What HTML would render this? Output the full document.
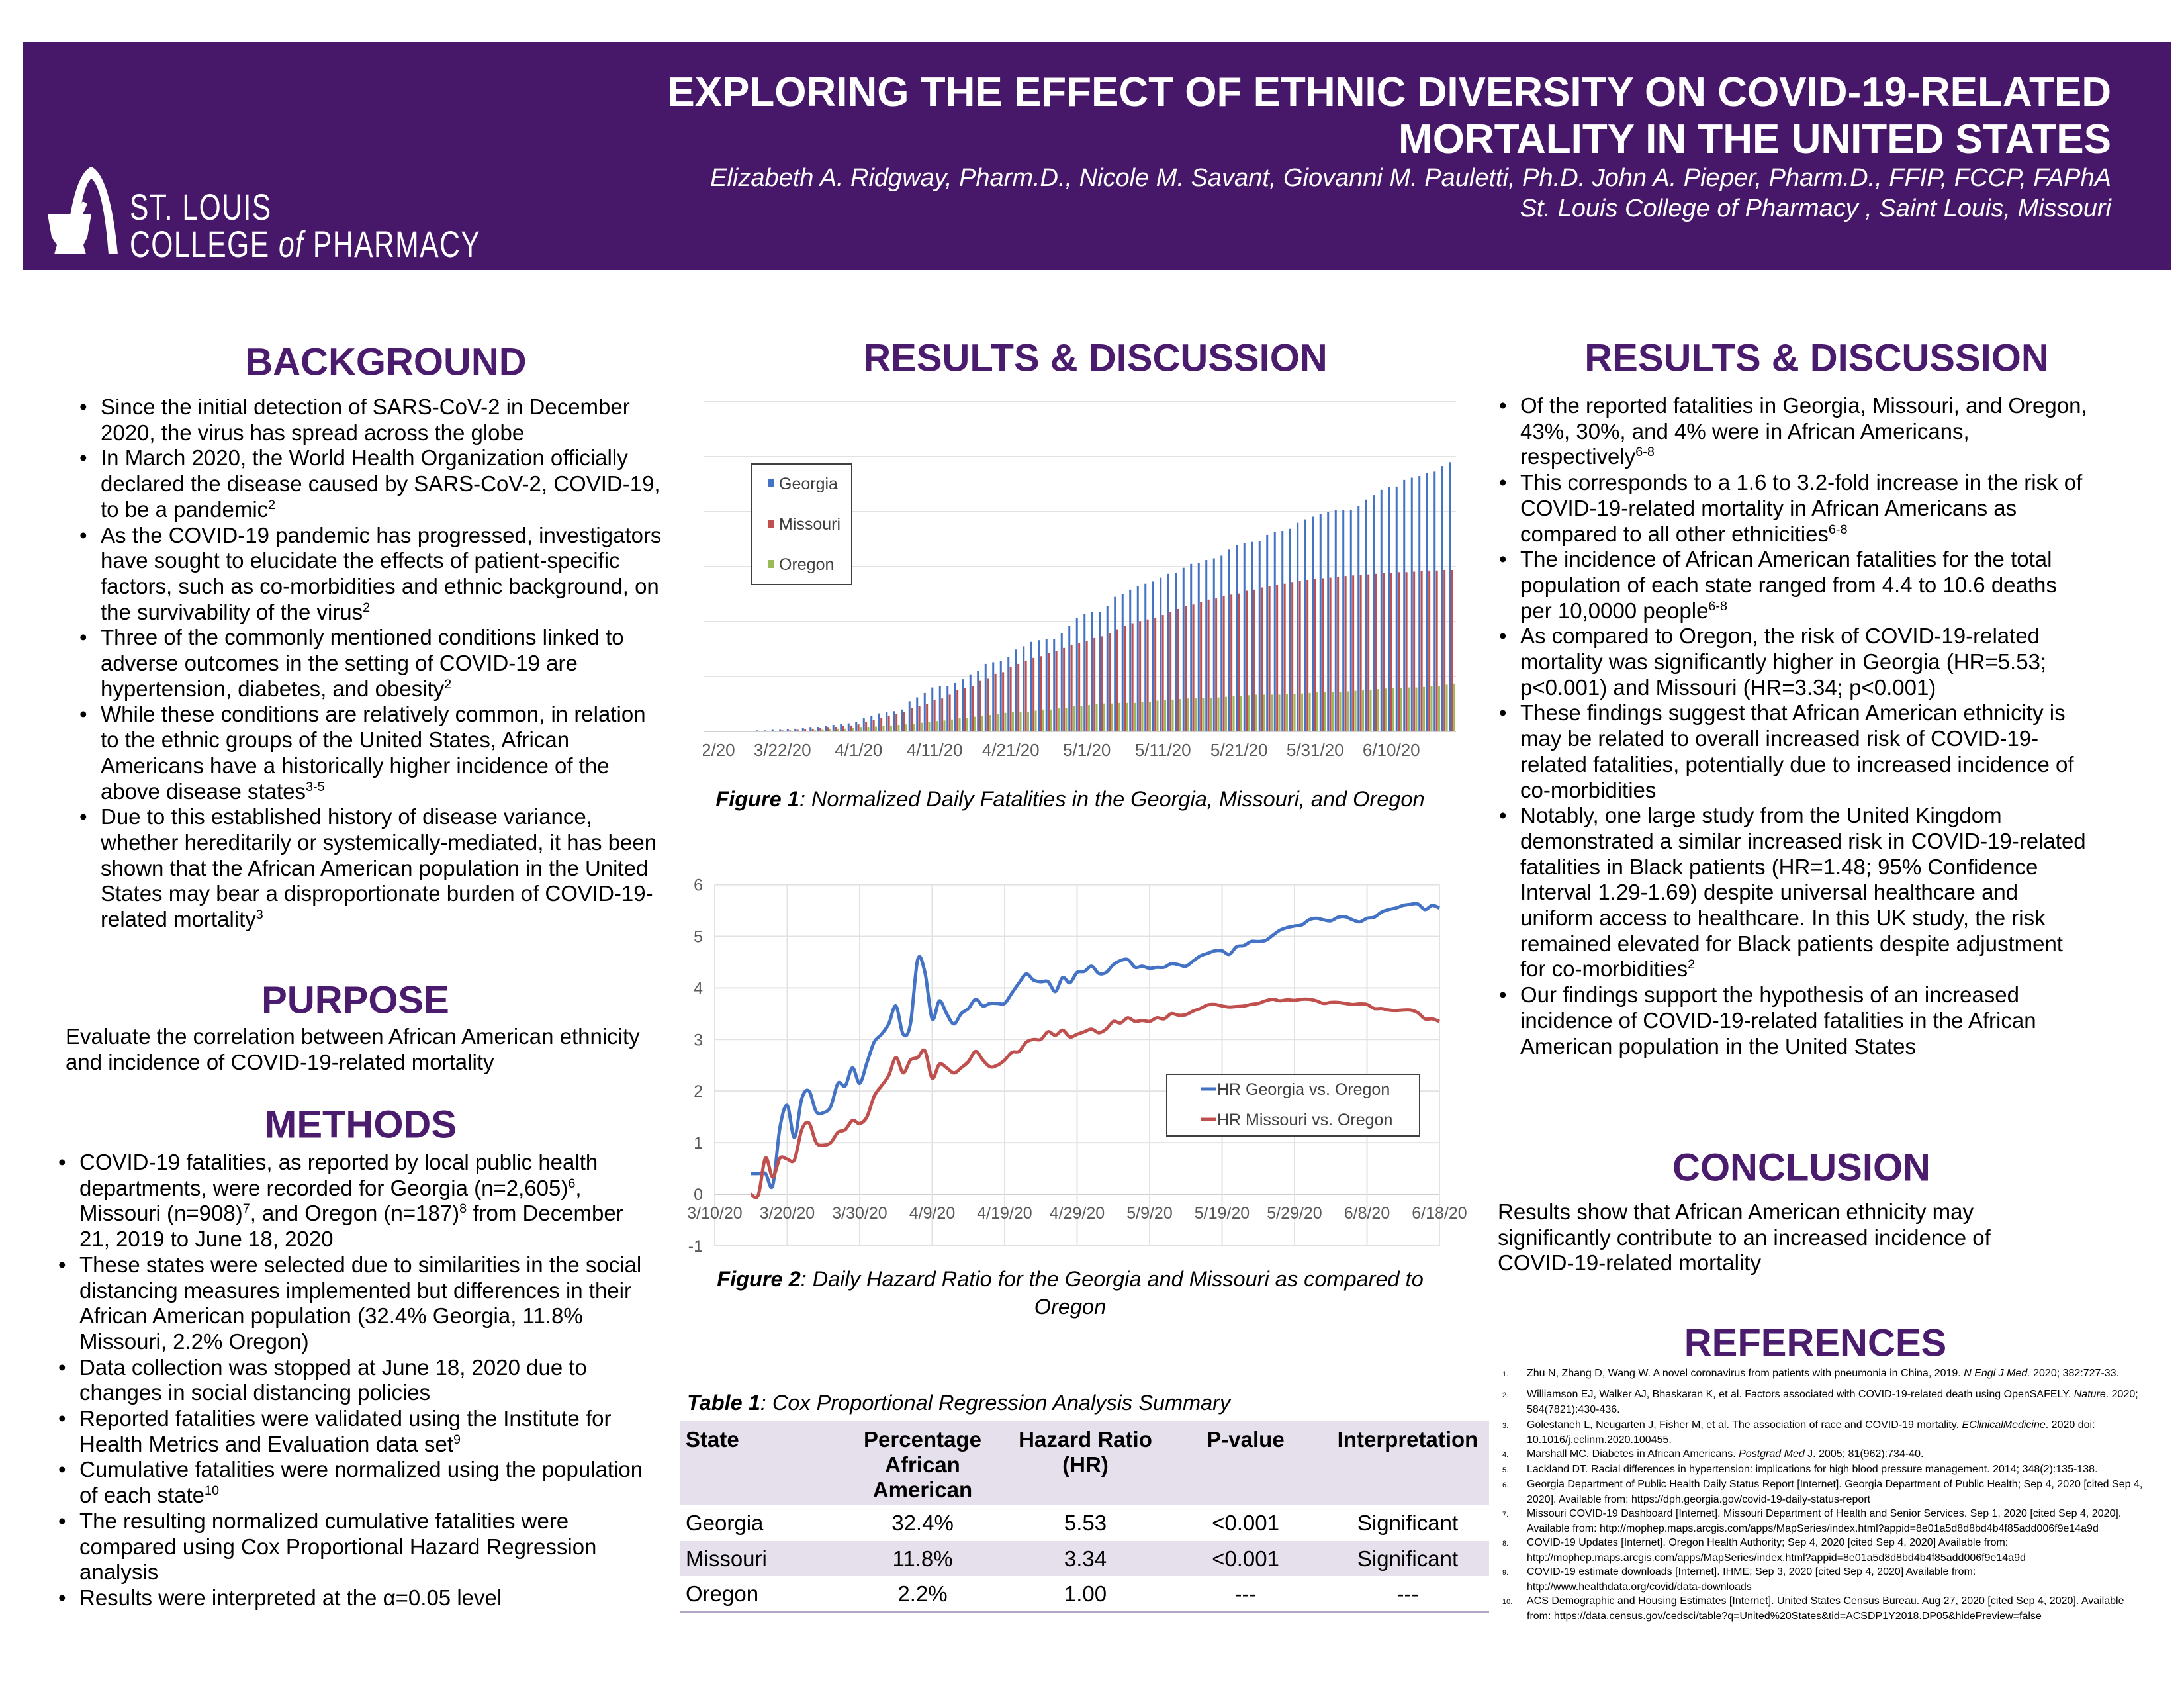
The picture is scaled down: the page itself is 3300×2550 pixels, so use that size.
<!DOCTYPE html>
<html><head><meta charset="utf-8">
<style>
html,body{margin:0;padding:0;background:#fff}
body{width:3300px;height:2550px;position:relative;overflow:hidden;font-family:"Liberation Sans",Arial,sans-serif;color:#000}
.abs{position:absolute}
.banner{left:34px;top:63px;width:3247px;height:345px;background:#47186a}
.title{right:110px;text-align:right;color:#fff;font-weight:bold;font-size:62px;white-space:nowrap}
.auth{right:110px;text-align:right;color:#fff;font-style:italic;font-size:38px;white-space:nowrap}
.logo-t{color:#fff;font-size:56px;white-space:nowrap;transform-origin:0 0;transform:scaleX(0.76);letter-spacing:2px}
.h{color:#4b1c6e;font-weight:bold;font-size:58px;white-space:nowrap;transform:translate(-50%,-50%)}
.txt{font-size:33px;line-height:38.7px;white-space:nowrap}
.txt .li{position:relative}
.txt .li::before{content:"•";position:absolute;left:-32px}
sup{font-size:60%;line-height:0}
.cap{font-size:32.5px;font-style:italic;white-space:nowrap;text-align:center}
.refs{font-size:16px;line-height:21px;white-space:nowrap}
</style></head><body>
<div class="abs banner"></div>
<svg class="abs" style="left:60px;top:240px" width="140" height="150">
<path d="M38,144 C45,80 55,22 78,12 C100,22 112,80 118,144 L104,144 C100,90 92,40 78,30 C65,40 58,90 54,144 Z" fill="#fff"/>
<path d="M12,84 L78,84 L72,118 L66,130 L70,144 L22,144 L26,130 L18,118 Z" fill="#fff"/>
<path d="M55,84 L65,64 L72,68 L64,86 Z" fill="#fff"/>
</svg>
<div class="abs logo-t" style="left:196px;top:280px">ST. LOUIS</div>
<div class="abs logo-t" style="left:196px;top:336px">COLLEGE <i>of</i> PHARMACY</div>
<div class="abs title" style="top:104px">EXPLORING THE EFFECT OF ETHNIC DIVERSITY ON COVID-19-RELATED</div>
<div class="abs title" style="top:175px">MORTALITY IN THE UNITED STATES</div>
<div class="abs auth" style="top:248px">Elizabeth A. Ridgway, Pharm.D., Nicole M. Savant, Giovanni M. Pauletti, Ph.D. John A. Pieper, Pharm.D., FFIP, FCCP, FAPhA</div>
<div class="abs auth" style="top:294px">St. Louis College of Pharmacy , Saint Louis, Missouri</div>

<!-- LEFT COLUMN -->
<div class="abs h" style="left:583px;top:547px">BACKGROUND</div>
<div class="abs txt" style="left:152px;top:596px">
<div class="li">Since the initial detection of SARS-CoV-2 in December<br>2020, the virus has spread across the globe</div>
<div class="li">In March 2020, the World Health Organization officially<br>declared the disease caused by SARS-CoV-2, COVID-19,<br>to be a pandemic<sup>2</sup></div>
<div class="li">As the COVID-19 pandemic has progressed, investigators<br>have sought to elucidate the effects of patient-specific<br>factors, such as co-morbidities and ethnic background, on<br>the survivability of the virus<sup>2</sup></div>
<div class="li">Three of the commonly mentioned conditions linked to<br>adverse outcomes in the setting of COVID-19 are<br>hypertension, diabetes, and obesity<sup>2</sup></div>
<div class="li">While these conditions are relatively common, in relation<br>to the ethnic groups of the United States, African<br>Americans have a historically higher incidence of the<br>above disease states<sup>3-5</sup></div>
<div class="li">Due to this established history of disease variance,<br>whether hereditarily or systemically-mediated, it has been<br>shown that the African American population in the United<br>States may bear a disproportionate burden of COVID-19-<br>related mortality<sup>3</sup></div>
</div>
<div class="abs h" style="left:537px;top:1511px">PURPOSE</div>
<div class="abs txt" style="left:99px;top:1547px">Evaluate the correlation between African American ethnicity<br>and incidence of COVID-19-related mortality</div>
<div class="abs h" style="left:545px;top:1699px">METHODS</div>
<div class="abs txt" style="left:120px;top:1737px">
<div class="li">COVID-19 fatalities, as reported by local public health<br>departments, were recorded for Georgia (n=2,605)<sup>6</sup>,<br>Missouri (n=908)<sup>7</sup>, and Oregon (n=187)<sup>8</sup> from December<br>21, 2019 to June 18, 2020</div>
<div class="li">These states were selected due to similarities in the social<br>distancing measures implemented but differences in their<br>African American population (32.4% Georgia, 11.8%<br>Missouri, 2.2% Oregon)</div>
<div class="li">Data collection was stopped at June 18, 2020 due to<br>changes in social distancing policies</div>
<div class="li">Reported fatalities were validated using the Institute for<br>Health Metrics and Evaluation data set<sup>9</sup></div>
<div class="li">Cumulative fatalities were normalized using the population<br>of each state<sup>10</sup></div>
<div class="li">The resulting normalized cumulative fatalities were<br>compared using Cox Proportional Hazard Regression<br>analysis</div>
<div class="li">Results were interpreted at the α=0.05 level</div>
</div>

<!-- MIDDLE -->
<div class="abs h" style="left:1655px;top:541px">RESULTS &amp; DISCUSSION</div>
<svg id="charts" class="abs" style="left:0;top:0" width="3300" height="2550"></svg>
<div class="abs cap" style="left:1617px;top:1189px;transform:translateX(-50%)"><b>Figure 1</b>: Normalized Daily Fatalities in the Georgia, Missouri, and Oregon</div>
<div class="abs cap" style="left:1617px;top:1911px;transform:translateX(-50%);line-height:42px"><b>Figure 2</b>: Daily Hazard Ratio for the Georgia and Missouri as compared to<br>Oregon</div>
<div class="abs cap" style="left:1038px;top:2101px;text-align:left"><b>Table 1</b>: Cox Proportional Regression Analysis Summary</div>
<div class="abs" style="left:1028px;top:2147px;width:1222px;height:127px;background:#e6e0ec"></div>
<div class="abs" style="left:1028px;top:2328px;width:1222px;height:53px;background:#e6e0ec"></div>
<div class="abs" style="left:1028px;top:2433px;width:1222px;height:3px;background:#b3a6c4"></div>
<div id="tbl"></div>

<!-- RIGHT -->
<div class="abs h" style="left:2745px;top:541px">RESULTS &amp; DISCUSSION</div>
<div class="abs txt" style="left:2297px;top:594px">
<div class="li">Of the reported fatalities in Georgia, Missouri, and Oregon,<br>43%, 30%, and 4% were in African Americans,<br>respectively<sup>6-8</sup></div>
<div class="li">This corresponds to a 1.6 to 3.2-fold increase in the risk of<br>COVID-19-related mortality in African Americans as<br>compared to all other ethnicities<sup>6-8</sup></div>
<div class="li">The incidence of African American fatalities for the total<br>population of each state ranged from 4.4 to 10.6 deaths<br>per 10,0000 people<sup>6-8</sup></div>
<div class="li">As compared to Oregon, the risk of COVID-19-related<br>mortality was significantly higher in Georgia (HR=5.53;<br>p&lt;0.001) and Missouri (HR=3.34; p&lt;0.001)</div>
<div class="li">These findings suggest that African American ethnicity is<br>may be related to overall increased risk of COVID-19-<br>related fatalities, potentially due to increased incidence of<br>co-morbidities</div>
<div class="li">Notably, one large study from the United Kingdom<br>demonstrated a similar increased risk in COVID-19-related<br>fatalities in Black patients (HR=1.48; 95% Confidence<br>Interval 1.29-1.69) despite universal healthcare and<br>uniform access to healthcare. In this UK study, the risk<br>remained elevated for Black patients despite adjustment<br>for co-morbidities<sup>2</sup></div>
<div class="li">Our findings support the hypothesis of an increased<br>incidence of COVID-19-related fatalities in the African<br>American population in the United States</div>
</div>
<div class="abs h" style="left:2722px;top:1764px">CONCLUSION</div>
<div class="abs txt" style="left:2263px;top:1812px">Results show that African American ethnicity may<br>significantly contribute to an increased incidence of<br>COVID-19-related mortality</div>
<div class="abs h" style="left:2743px;top:2029px">REFERENCES</div>
<div class="abs refs" style="left:2270px;top:2064px">
<div><span style="display:inline-block;width:37px;font-size:11px">1.</span>Zhu N, Zhang D, Wang W. A novel coronavirus from patients with pneumonia in China, 2019. <i>N Engl J Med.</i> 2020; 382:727-33.</div>
<div style="margin-top:9px"><span style="display:inline-block;width:37px;font-size:11px">2.</span>Williamson EJ, Walker AJ, Bhaskaran K, et al. Factors associated with COVID-19-related death using OpenSAFELY. <i>Nature</i>. 2020;<br><span style="display:inline-block;width:37px"></span>584(7821):430-436.</div>
<div style="margin-top:2px"><span style="display:inline-block;width:37px;font-size:11px">3.</span>Golestaneh L, Neugarten J, Fisher M, et al. The association of race and COVID-19 mortality. <i>EClinicalMedicine</i>. 2020 doi:<br><span style="display:inline-block;width:37px"></span>10.1016/j.eclinm.2020.100455.</div>
<div><span style="display:inline-block;width:37px;font-size:11px">4.</span>Marshall MC. Diabetes in African Americans. <i>Postgrad Med</i> J. 2005; 81(962):734-40.</div>
<div><span style="display:inline-block;width:37px;font-size:11px">5.</span>Lackland DT. Racial differences in hypertension: implications for high blood pressure management. 2014; 348(2):135-138.</div>
<div><span style="display:inline-block;width:37px;font-size:11px">6.</span>Georgia Department of Public Health Daily Status Report [Internet]. Georgia Department of Public Health; Sep 4, 2020 [cited Sep 4,<br><span style="display:inline-block;width:37px"></span>2020]. Available from: https://dph.georgia.gov/covid-19-daily-status-report</div>
<div><span style="display:inline-block;width:37px;font-size:11px">7.</span>Missouri COVID-19 Dashboard [Internet]. Missouri Department of Health and Senior Services. Sep 1, 2020 [cited Sep 4, 2020].<br><span style="display:inline-block;width:37px"></span>Available from: http://mophep.maps.arcgis.com/apps/MapSeries/index.html?appid=8e01a5d8d8bd4b4f85add006f9e14a9d</div>
<div><span style="display:inline-block;width:37px;font-size:11px">8.</span>COVID-19 Updates [Internet]. Oregon Health Authority; Sep 4, 2020 [cited Sep 4, 2020] Available from:<br><span style="display:inline-block;width:37px"></span>http://mophep.maps.arcgis.com/apps/MapSeries/index.html?appid=8e01a5d8d8bd4b4f85add006f9e14a9d</div>
<div><span style="display:inline-block;width:37px;font-size:11px">9.</span>COVID-19 estimate downloads [Internet]. IHME; Sep 3, 2020 [cited Sep 4, 2020] Available from:<br><span style="display:inline-block;width:37px"></span>http://www.healthdata.org/covid/data-downloads</div>
<div><span style="display:inline-block;width:37px;font-size:11px">10.</span>ACS Demographic and Housing Estimates [Internet]. United States Census Bureau. Aug 27, 2020 [cited Sep 4, 2020]. Available<br><span style="display:inline-block;width:37px"></span>from: https://data.census.gov/cedsci/table?q=United%20States&amp;tid=ACSDP1Y2018.DP05&amp;hidePreview=false</div>
</div>

<script>
// ---------- Figure 1 data (normalized cumulative fatalities, 3/11/20 .. 6/18/20)
const fig1Georgia = [0,0,0,0,0,0.01,0.01,0.01,0.02,0.02,
0.03,0.03,0.04,0.05,0.06,0.07,0.08,0.1,0.12,0.14,
0.15,0.18,0.24,0.29,0.33,0.36,0.37,0.40,0.55,0.62,
0.70,0.80,0.82,0.82,0.88,0.95,1.04,1.10,1.23,1.26,
1.28,1.36,1.49,1.55,1.63,1.66,1.68,1.68,1.79,1.92,
2.06,2.14,2.18,2.18,2.28,2.45,2.50,2.58,2.65,2.69,
2.73,2.80,2.87,2.89,2.98,3.05,3.06,3.12,3.15,3.20,
3.31,3.39,3.43,3.45,3.46,3.58,3.63,3.65,3.69,3.80,
3.86,3.91,3.96,3.99,4.03,4.03,4.03,4.10,4.22,4.30,
4.40,4.45,4.46,4.58,4.62,4.65,4.70,4.73,4.83,4.90];
const fig1Missouri = [0,0,0,0,0,0,0,0,0.01,0.01,
0.01,0.02,0.02,0.03,0.04,0.05,0.06,0.07,0.08,0.10,
0.11,0.13,0.17,0.21,0.25,0.29,0.32,0.36,0.43,0.46,
0.50,0.57,0.60,0.67,0.76,0.79,0.83,0.92,0.97,1.05,
1.08,1.17,1.23,1.29,1.34,1.37,1.43,1.46,1.52,1.57,
1.61,1.64,1.70,1.73,1.79,1.86,1.92,1.97,2.01,2.04,
2.07,2.12,2.18,2.23,2.28,2.31,2.35,2.40,2.42,2.46,
2.49,2.51,2.56,2.58,2.62,2.65,2.67,2.69,2.72,2.74,
2.76,2.78,2.79,2.80,2.82,2.83,2.84,2.85,2.86,2.87,
2.88,2.89,2.90,2.90,2.91,2.92,2.93,2.93,2.94,2.94];
const fig1Oregon = [0,0,0,0,0,0,0,0,0,0,
0,0,0.01,0.01,0.01,0.02,0.03,0.04,0.05,0.05,
0.06,0.07,0.08,0.09,0.10,0.11,0.12,0.13,0.14,0.16,
0.18,0.19,0.20,0.22,0.24,0.25,0.27,0.28,0.30,0.32,
0.34,0.35,0.36,0.36,0.38,0.40,0.40,0.42,0.43,0.46,
0.47,0.48,0.50,0.51,0.51,0.52,0.52,0.52,0.53,0.54,
0.56,0.57,0.58,0.59,0.60,0.61,0.61,0.61,0.62,0.63,
0.64,0.65,0.66,0.67,0.67,0.67,0.67,0.68,0.68,0.69,
0.70,0.71,0.71,0.72,0.72,0.73,0.74,0.75,0.76,0.77,
0.78,0.79,0.79,0.80,0.80,0.81,0.82,0.83,0.85,0.87];
const fig1TickLabels = ["3/12/20","3/22/20","4/1/20","4/11/20","4/21/20","5/1/20","5/11/20","5/21/20","5/31/20","6/10/20"];
const fig1TickIndex = [1,11,21,31,41,51,61,71,81,91];
const fig1Series = ["Georgia","Missouri","Oregon"];

// ---------- Figure 2 data (daily hazard ratio, day offset from 3/10/20)
const fig2Days = [5,6,7,8,9,10,11,12,13,14,15,16,17,18,19,20,21,22,23,24,25,26,27,28,29,30,31,32,33,34,35,36,37,38,39,40,41,42,43,44,45,46,47,48,49,50,51,52,53,54,55,56,57,58,59,60,61,62,63,64,65,66,67,68,69,70,71,72,73,74,75,76,77,78,79,80,81,82,83,84,85,86,87,88,89,90,91,92,93,94,95,96,97,98,99,100];
const fig2Georgia = [0.4,0.4,0.4,0.17,1.3,1.72,1.1,1.85,2.0,1.6,1.58,1.7,2.15,2.1,2.45,2.15,2.55,2.95,3.1,3.3,3.65,3.1,3.3,4.55,4.3,3.4,3.75,3.5,3.3,3.5,3.6,3.78,3.65,3.7,3.7,3.7,3.9,4.1,4.27,4.15,4.12,4.12,3.93,4.2,4.1,4.3,4.32,4.42,4.28,4.3,4.45,4.53,4.55,4.4,4.42,4.38,4.4,4.4,4.47,4.45,4.42,4.52,4.62,4.67,4.72,4.72,4.65,4.8,4.82,4.9,4.9,4.92,5.02,5.12,5.17,5.2,5.22,5.32,5.35,5.32,5.3,5.37,5.38,5.32,5.28,5.35,5.37,5.47,5.52,5.55,5.6,5.62,5.63,5.52,5.6,5.55];
const fig2Missouri = [0.0,-0.02,0.7,0.33,0.7,0.68,0.67,1.25,1.38,1.0,0.95,1.0,1.2,1.25,1.43,1.37,1.5,1.9,2.1,2.3,2.65,2.35,2.6,2.65,2.78,2.25,2.52,2.45,2.35,2.45,2.57,2.77,2.6,2.47,2.5,2.6,2.75,2.77,2.95,3.0,3.0,3.15,3.08,3.18,3.05,3.1,3.15,3.2,3.13,3.2,3.35,3.32,3.42,3.35,3.37,3.35,3.42,3.4,3.5,3.47,3.48,3.55,3.6,3.67,3.68,3.65,3.63,3.64,3.65,3.68,3.7,3.75,3.78,3.75,3.77,3.76,3.78,3.78,3.75,3.7,3.72,3.72,3.7,3.68,3.69,3.68,3.6,3.6,3.57,3.56,3.57,3.57,3.52,3.4,3.4,3.35];
const fig2XLabels = ["3/10/20","3/20/20","3/30/20","4/9/20","4/19/20","4/29/20","5/9/20","5/19/20","5/29/20","6/8/20","6/18/20"];
const fig2YTicks = [-1,0,1,2,3,4,5,6];
const fig2Legend = ["HR Georgia vs. Oregon","HR Missouri vs. Oregon"];

const NS="http://www.w3.org/2000/svg";
const svg=document.getElementById('charts');
function mk(tag,attrs,parent){const e=document.createElementNS(NS,tag);for(const k in attrs)e.setAttribute(k,attrs[k]);(parent||svg).appendChild(e);return e;}

// ---- Figure 1
const f1={x0:1050,bw:11.5,y0:1105,unit:83};
const f1x=i=>f1.x0+(i+0.5)*f1.bw;
const f1y=v=>f1.y0-v*f1.unit;
for(let g=0;g<=6;g++){
  const l=mk('line',{x1:1064,x2:2200,y1:f1y(g),y2:f1y(g),stroke:g===0?'#d0d0d0':'#e2e2e2','stroke-width':2});
  
  
}
const f1Colors=['#4472c4','#c0504d','#9bbb59'];
const f1Data=[fig1Georgia,fig1Missouri,fig1Oregon];
for(let s=0;s<3;s++){
  const d=f1Data[s];
  for(let i=0;i<d.length;i++){
    const h=Math.max(0,d[i]*f1.unit);
    const r=mk('rect',{x:f1x(i)-5+s*3.4,y:f1.y0-h,width:3,height:h,fill:f1Colors[s]});
    
    
  }
}
mk('clipPath',{id:'f1clip'});
mk('rect',{x:1062,y:1100,width:1200,height:80},document.getElementById('f1clip'));
for(let k=0;k<fig1TickLabels.length;k++){
  const t=mk('text',{x:f1x(fig1TickIndex[k]),y:1142,'text-anchor':'middle','font-size':26,fill:'#595959','clip-path':'url(#f1clip)','font-family':'Liberation Sans, sans-serif'});
  t.textContent=fig1TickLabels[k];
  
  
}
const lg1=mk('rect',{x:1135,y:701,width:152,height:182,fill:'#fff',stroke:'#404040','stroke-width':2});


for(let s=0;s<3;s++){
  const yy=730+s*61;
  const m=mk('rect',{x:1160,y:yy-6,width:10,height:12,fill:f1Colors[s]});
  
  
  const t=mk('text',{x:1177,y:yy+9,'font-size':25,fill:'#404040','font-family':'Liberation Sans, sans-serif'});
  t.textContent=fig1Series[s];
  
  
}

// ---- Figure 2
const f2={x0:1080,x1:2175,y0:1804,unit:77.9};
const f2x=d=>f2.x0+(f2.x1-f2.x0)*d/100;
const f2y=v=>f2.y0-v*f2.unit;
for(const v of fig2YTicks){
  const l=mk('line',{x1:f2.x0,x2:f2.x1,y1:f2y(v),y2:f2y(v),stroke:v===0?'#d0d0d0':'#e2e2e2','stroke-width':2});
  
  
  const t=mk('text',{x:1062,y:f2y(v)+9,'text-anchor':'end','font-size':25,fill:'#595959','font-family':'Liberation Sans, sans-serif'});
  t.textContent=v;
  
  
}
for(let k=0;k<fig2XLabels.length;k++){
  const x=f2x(k*10);
  const l=mk('line',{x1:x,x2:x,y1:f2y(6),y2:f2y(-1),stroke:'#e2e2e2','stroke-width':2});
  
  
  const t=mk('text',{x:x,y:1841,'text-anchor':'middle','font-size':25,fill:'#595959','font-family':'Liberation Sans, sans-serif'});
  t.textContent=fig2XLabels[k];
  
  
}
function smooth(pts){
  let d='M'+pts[0][0]+','+pts[0][1];
  for(let i=0;i<pts.length-1;i++){
    const p0=pts[Math.max(0,i-1)],p1=pts[i],p2=pts[i+1],p3=pts[Math.min(pts.length-1,i+2)];
    const c1=[p1[0]+(p2[0]-p0[0])/6,p1[1]+(p2[1]-p0[1])/6];
    const c2=[p2[0]-(p3[0]-p1[0])/6,p2[1]-(p3[1]-p1[1])/6];
    d+=' C'+c1[0]+','+c1[1]+' '+c2[0]+','+c2[1]+' '+p2[0]+','+p2[1];
  }
  return d;
}
const f2Colors=['#4472c4','#c0504d'];
[fig2Georgia,fig2Missouri].forEach((vals,s)=>{
  const pts=fig2Days.map((d,i)=>[f2x(d),f2y(vals[i])]);
  const p=mk('path',{d:smooth(pts),fill:'none',stroke:f2Colors[s],'stroke-width':5,'stroke-linejoin':'round'});
  
  
});
const lg2=mk('rect',{x:1763,y:1623,width:382,height:93,fill:'#fff',stroke:'#404040','stroke-width':2});


for(let s=0;s<2;s++){
  const yy=1645+s*46;
  const m=mk('line',{x1:1814,x2:1838,y1:yy,y2:yy,stroke:f2Colors[s],'stroke-width':5});
  
  
  const t=mk('text',{x:1839,y:yy+9,'font-size':25,fill:'#404040','font-family':'Liberation Sans, sans-serif'});
  t.textContent=fig2Legend[s];
  
  
}

// ---- Table
const tblCols=[1036,1394,1640,1882,2127];
const tblHeader=[["State"],["Percentage","African","American"],["Hazard Ratio","(HR)"],["P-value"],["Interpretation"]];
const tblRows=[["Georgia","32.4%","5.53","<0.001","Significant"],["Missouri","11.8%","3.34","<0.001","Significant"],["Oregon","2.2%","1.00","---","---"]];
const tblRowY=[2301,2355,2408];
const tbl=document.getElementById('tbl');
tblHeader.forEach((lines,c)=>{
  lines.forEach((txt,j)=>{
    const d=document.createElement('div');
    d.className='abs';
    d.style.cssText='font-size:33px;font-weight:bold;white-space:nowrap;left:'+tblCols[c]+'px;top:'+(2156+j*38)+'px;'+(c?'transform:translateX(-50%)':'');
    d.textContent=txt;
    
    
    tbl.appendChild(d);
  });
});
tblRows.forEach((row,r)=>{
  row.forEach((txt,c)=>{
    const d=document.createElement('div');
    d.className='abs';
    d.style.cssText='font-size:33px;white-space:nowrap;left:'+tblCols[c]+'px;top:'+(tblRowY[r]-19)+'px;'+(c?'transform:translateX(-50%)':'');
    d.textContent=txt;
    
    
    tbl.appendChild(d);
  });
});
</script>
</body></html>
